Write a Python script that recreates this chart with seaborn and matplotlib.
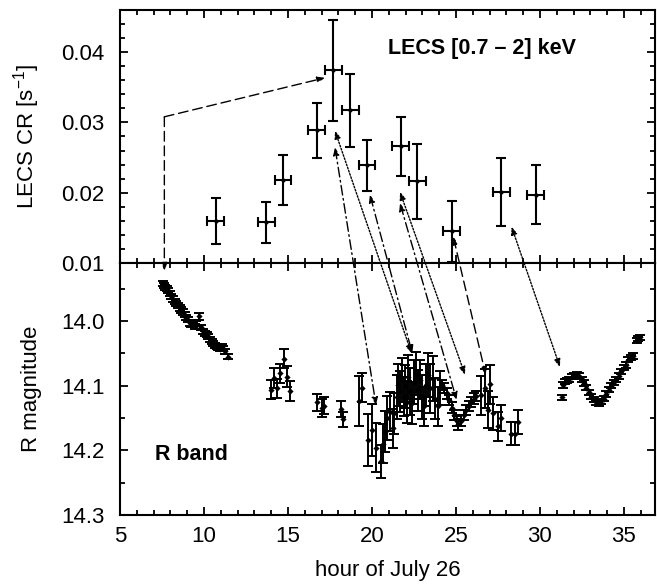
import numpy as np
import pandas as pd
import matplotlib
matplotlib.use("Agg")
import matplotlib.pyplot as plt
import seaborn as sns
from matplotlib.patches import ConnectionPatch
from matplotlib.ticker import MultipleLocator

# ---------------- data ----------------
# LECS [0.7-2] keV count rate
lecs_hour = [10.7, 13.7, 14.7, 16.7, 17.7, 18.7, 19.7, 21.7, 22.7, 24.75, 27.7, 29.75]
lecs_rate = [0.0160, 0.0158, 0.0218, 0.0289, 0.0374, 0.0317, 0.0239, 0.0266, 0.0216, 0.0145, 0.0201, 0.0197]
lecs_rerr = [0.0033, 0.0029, 0.0035, 0.0039, 0.0072, 0.0052, 0.0036, 0.0042, 0.0054, 0.0043, 0.0049, 0.0042]
lecs_herr = [0.5, 0.5, 0.5, 0.5, 0.5, 0.5, 0.5, 0.5, 0.5, 0.5, 0.5, 0.5]

# R band magnitudes
r_hour = [
    7.55, 7.62, 7.70, 7.78, 7.85, 7.95, 8.05, 8.15, 8.25, 8.35, 8.45, 8.55, 8.65, 8.75,
    8.85, 8.95, 9.05, 9.15, 9.25, 9.35, 9.45, 9.55, 9.72, 9.85, 9.95, 10.05, 10.15, 10.25,
    10.35, 10.45, 10.55, 10.65, 10.75, 10.85, 10.95, 11.05, 11.15, 11.25, 11.45,
    13.97, 14.18, 14.33, 14.52, 14.76, 14.92, 15.12,
    16.71, 17.00, 17.14, 18.15, 18.29,
    19.24, 19.42, 19.74, 20.02, 20.22, 20.54, 20.63, 20.77, 20.87, 21.07, 21.23, 21.33,
    21.47, 21.57, 21.67, 21.77, 21.90, 21.96, 22.06, 22.16, 22.26, 22.36, 22.50, 22.62,
    22.76, 22.86, 22.96, 23.10, 23.21, 23.35, 23.45, 23.61, 23.75, 23.95, 24.05,
    24.15, 24.29, 24.45, 24.60, 24.75, 24.90, 25.05, 25.15, 25.30, 25.45, 25.60, 25.75,
    25.90, 26.05, 26.20, 26.50, 26.75, 26.92, 27.00, 27.22, 27.52, 27.66, 28.25, 28.51, 28.67,
    31.29, 31.39, 31.50, 31.62, 31.75, 31.90, 32.05, 32.20, 32.35, 32.50, 32.62, 32.75,
    32.90, 33.05, 33.20, 33.35, 33.50, 33.65, 33.80, 33.95, 34.10, 34.25, 34.40, 34.55,
    34.70, 34.85, 35.00, 35.10, 35.25, 35.40, 35.55, 35.75, 35.85, 35.95,
]
r_mag = [
    13.942, 13.945, 13.948, 13.950, 13.953, 13.958, 13.962, 13.966, 13.970, 13.973, 13.976,
    13.980, 13.983, 13.986, 13.990, 13.995, 13.998, 14.003, 14.006, 14.005, 14.008, 14.004,
    13.993, 14.010, 14.016, 14.019, 14.021, 14.024, 14.028, 14.032, 14.035, 14.038, 14.040,
    14.041, 14.043, 14.040, 14.043, 14.047, 14.055,
    14.106, 14.088, 14.104, 14.081, 14.058, 14.086, 14.108,
    14.126, 14.135, 14.131, 14.136, 14.152,
    14.124, 14.103, 14.184, 14.168, 14.196, 14.217, 14.190, 14.171, 14.150, 14.140, 14.166,
    14.143, 14.117, 14.099, 14.109, 14.091, 14.117, 14.101, 14.125, 14.086, 14.109, 14.127,
    14.094, 14.081, 14.107, 14.091, 14.117, 14.132, 14.099, 14.083, 14.104, 14.089, 14.120,
    14.132, 14.104,
    14.099, 14.104, 14.112, 14.122, 14.134, 14.145, 14.155, 14.160, 14.154, 14.145, 14.138,
    14.131, 14.125, 14.120, 14.116, 14.115, 14.104, 14.137, 14.098, 14.143, 14.163, 14.150,
    14.174, 14.174, 14.156,
    14.118, 14.099, 14.094, 14.092, 14.090, 14.086, 14.084, 14.083, 14.085, 14.090, 14.096,
    14.103, 14.110, 14.117, 14.122, 14.126, 14.127, 14.124, 14.120, 14.113, 14.106, 14.100,
    14.095, 14.090, 14.085, 14.078, 14.072, 14.068, 14.060, 14.057, 14.054, 14.030, 14.027,
    14.025,
]
r_err = (
    [0.004] * 22 + [0.006] + [0.004] * 16
    + [0.015, 0.016, 0.015, 0.015, 0.015, 0.016, 0.015]
    + [0.013, 0.014, 0.013, 0.013, 0.012]
    + [0.039, 0.022, 0.040, 0.040, 0.038, 0.026, 0.030, 0.032, 0.034, 0.030, 0.030, 0.032,
       0.034, 0.033, 0.032, 0.034, 0.030, 0.033, 0.032, 0.034, 0.036, 0.032, 0.034, 0.033,
       0.032, 0.030, 0.034, 0.030, 0.032, 0.034, 0.038, 0.035, 0.032, 0.030, 0.026]
    + [0.008, 0.008, 0.008, 0.008, 0.008, 0.008, 0.008, 0.008, 0.008, 0.008, 0.008, 0.008,
       0.008, 0.008, 0.008]
    + [0.030, 0.030, 0.028, 0.030, 0.026, 0.022, 0.020, 0.018, 0.018, 0.018]
    + [0.004] * 34
)

# arrows: (hour_top, rate_top, hour_bottom, mag_bottom, style)
arr_h1 = [17.80, 17.80, 19.88, 21.67, 21.67, 24.84, 28.31]
arr_c1 = [0.0288, 0.02645, 0.0197, 0.0201, 0.0185, 0.01374, 0.01516]
arr_h2 = [22.36, 20.24, 22.40, 25.54, 25.04, 26.77, 31.19]
arr_m2 = [14.050, 14.130, 14.050, 14.083, 14.122, 14.083, 14.071]
arr_style = ["dotted", "dashdot", "dashdot", "dotted", "dashdot", "dashed", "dotted"]

# dashed polyline from first optical point
poly_h = [7.64, 7.64, 17.2]
poly_v = [13.922, 0.0308, 0.03635]

# ---------------- style ----------------
sns.set_style("ticks")
plt.rcParams["font.family"] = ["Liberation Sans", "DejaVu Sans"]
plt.rcParams["mathtext.fontset"] = "custom"
plt.rcParams["mathtext.rm"] = "Liberation Sans"
plt.rcParams["mathtext.it"] = "Liberation Sans"
plt.rcParams["mathtext.default"] = "regular"
plt.rcParams["text.color"] = "black"
plt.rcParams["axes.labelcolor"] = "black"

FS = 16
fig = plt.figure(figsize=(6.57, 5.84), dpi=100)
ax1 = fig.add_axes([0.18265, 0.54966, 0.8143, 0.43322])
ax2 = fig.add_axes([0.18265, 0.11815, 0.8143, 0.43151])

lecs = pd.DataFrame({"hour": lecs_hour, "rate": lecs_rate})
rdf = pd.DataFrame({"hour": r_hour, "mag": r_mag})

ax1.errorbar(lecs_hour, lecs_rate, yerr=lecs_rerr, xerr=lecs_herr, fmt="none",
             ecolor="black", elinewidth=1.5, capsize=3.5, capthick=1.5, zorder=3)
sns.scatterplot(data=lecs, x="hour", y="rate", ax=ax1, color="black", marker="o",
                s=9, edgecolor="black", linewidth=0, zorder=4)

ax2.errorbar(r_hour, r_mag, yerr=r_err, fmt="none", ecolor="black",
             elinewidth=1.4, capsize=3.5, capthick=1.4, zorder=3)
sns.scatterplot(data=rdf, x="hour", y="mag", ax=ax2, color="black", marker="D",
                s=10, edgecolor="black", linewidth=0, zorder=4)

ax1.set_xlim(5, 36.85)
ax2.set_xlim(5, 36.85)
ax1.set_ylim(0.01, 0.046)
ax2.set_ylim(14.3, 13.9103)

for ax in (ax1, ax2):
    for sp in ax.spines.values():
        sp.set_visible(True)
        sp.set_linewidth(1.5)
        sp.set_color("black")
    ax.xaxis.set_major_locator(MultipleLocator(5))
    ax.xaxis.set_minor_locator(MultipleLocator(1))
    ax.tick_params(which="both", direction="in", top=True, right=True,
                   labelsize=FS, width=1.3, color="black", labelcolor="black")
    ax.tick_params(which="major", length=6)
    ax.tick_params(which="minor", length=3.5)
    ax.tick_params(axis="y", which="major", pad=11)
    ax.tick_params(axis="x", which="major", pad=8)
    ax.grid(False)

ax1.yaxis.set_major_locator(MultipleLocator(0.01))
ax1.yaxis.set_minor_locator(MultipleLocator(0.002))
ax1.set_yticks([0.01, 0.02, 0.03, 0.04])
ax1.set_yticklabels(["0.01", "0.02", "0.03", "0.04"])
ax1.tick_params(axis="x", labelbottom=False)
ax2.set_yticks([14.0, 14.1, 14.2, 14.3])
ax2.set_yticklabels(["14.0", "14.1", "14.2", "14.3"])
ax2.yaxis.set_minor_locator(MultipleLocator(0.05))
ax2.set_xticks([5, 10, 15, 20, 25, 30, 35])

ax1.set_xlabel("")
ax1.set_ylabel("LECS CR [s$^{-1}$]", fontsize=FS, color="black")
ax2.set_ylabel("R magnitude", fontsize=FS, color="black")
ax2.set_xlabel("hour of July 26", fontsize=FS, labelpad=9, color="black")
ax1.yaxis.set_label_coords(-0.146, 0.5)
ax2.yaxis.set_label_coords(-0.146, 0.5)

ax1.text(0.501, 0.848, "LECS [0.7 \u2013 2] keV", transform=ax1.transAxes,
         fontsize=15.5, fontweight="bold", ha="left", va="center", color="black")
ax2.text(0.065, 0.24, "R band", transform=ax2.transAxes,
         fontsize=15.5, fontweight="bold", ha="left", va="center", color="black")

LS = {"dotted": (0, (1.2, 1.2)), "dashdot": (0, (7, 2.5, 1.2, 2.5)),
      "dashed": (0, (7, 3.5))}
ASTYLE = "<|-|>,head_length=0.45,head_width=0.18"

for h1, c1, h2, m2, st in zip(arr_h1, arr_c1, arr_h2, arr_m2, arr_style):
    cp = ConnectionPatch(xyA=(h1, c1), coordsA=ax1.transData,
                         xyB=(h2, m2), coordsB=ax2.transData,
                         arrowstyle=ASTYLE, mutation_scale=10, color="black",
                         linewidth=1.0, linestyle=LS[st], shrinkA=0, shrinkB=0,
                         zorder=10)
    fig.add_artist(cp)

# dashed polyline: vertical segment across panels, then segment in top panel
cp1 = ConnectionPatch(xyA=(poly_h[1], poly_v[1]), coordsA=ax1.transData,
                      xyB=(poly_h[0], poly_v[0]), coordsB=ax2.transData,
                      arrowstyle="-|>,head_length=0.45,head_width=0.18",
                      mutation_scale=10, color="black", linewidth=1.0,
                      linestyle=LS["dashed"], shrinkA=0, shrinkB=0, zorder=10)
fig.add_artist(cp1)
cp2 = ConnectionPatch(xyA=(poly_h[1], poly_v[1]), coordsA=ax1.transData,
                      xyB=(poly_h[2], poly_v[2]), coordsB=ax1.transData,
                      arrowstyle="-|>,head_length=0.45,head_width=0.18",
                      mutation_scale=10, color="black", linewidth=1.0,
                      linestyle=LS["dashed"], shrinkA=0, shrinkB=0, zorder=10)
fig.add_artist(cp2)

fig.savefig("out.png", dpi=100)
